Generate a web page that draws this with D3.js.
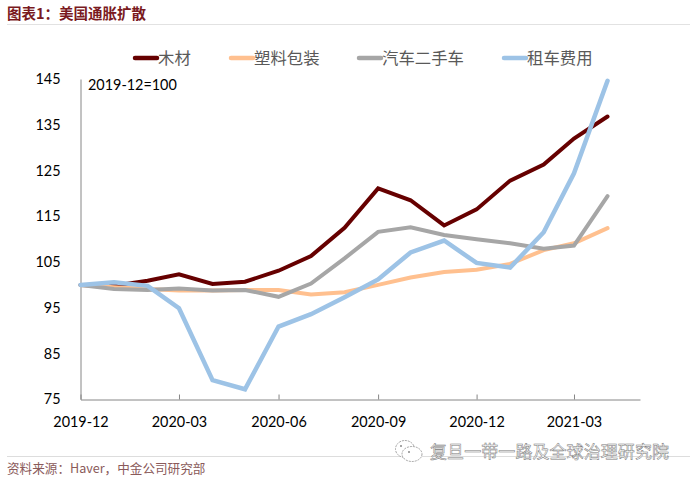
<!DOCTYPE html>
<html><head><meta charset="utf-8">
<script src="https://cdn.jsdelivr.net/npm/d3@7/dist/d3.min.js"></script>
<style>html,body{margin:0;padding:0;background:#fff}svg{display:block}
text{font-family:"Noto Sans CJK SC",sans-serif}
.num text,text.num{font-family:Lato,sans-serif;fill:#000;font-size:14.4px}
</style></head><body><svg id="c" width="690" height="482"></svg>
<script>
const months=["2019-12","2020-01","2020-02","2020-03","2020-04","2020-05","2020-06","2020-07","2020-08","2020-09","2020-10","2020-11","2020-12","2021-01","2021-02","2021-03","2021-04"];
const wood=[100,99.8,100.9,102.3,100.2,100.7,103.1,106.3,112.5,121.1,118.5,113,116.5,122.8,126.3,132,136.8];
const plastic=[100,99.5,99.1,98.8,98.8,98.9,98.9,97.9,98.4,100,101.6,102.8,103.3,104.6,107.6,109.1,112.4];
const usedCar=[100,99.1,98.9,99.2,98.8,98.9,97.4,100.3,105.8,111.6,112.6,110.9,110,109.1,107.9,108.6,119.4];
const rental=[100,100.6,99.8,94.9,79.2,77.2,90.9,93.6,97.3,101.2,107.1,109.7,104.8,103.8,111.5,124.4,144.6];
const seriesNames=["木材","塑料包装","汽车二手车","租车费用"];
const seriesColors=["#660000","#FFC08F","#A6A6A6","#9DC3E6"];
const yTicks=[75,85,95,105,115,125,135,145];
const xTickLabels=["2019-12","2020-03","2020-06","2020-09","2020-12","2021-03"];
const title="图表1：美国通胀扩散", source="资料来源：Haver，中金公司研究部", note="2019-12=100", mark="复旦一带一路及全球治理研究院";

const parse=d3.timeParse("%Y-%m"), fmt=d3.timeFormat("%Y-%m");
const svg=d3.select("#c");
const x=d3.scaleTime().domain([parse("2019-12"),parse("2021-05")]).range([80.5,640]);
const y=d3.scaleLinear().domain([75,145]).range([399.3,79]);

// header and footer
svg.append("text").attr("x",7).attr("y",18.5).attr("font-size",14.5).attr("font-weight",700).attr("fill","#7A1A1E").text(title);
svg.append("line").attr("x1",7).attr("x2",690).attr("y1",24.5).attr("y2",24.5).attr("stroke","#E2E2E2");
svg.append("line").attr("x1",7).attr("x2",690).attr("y1",456.5).attr("y2",456.5).attr("stroke","#DDD");
svg.append("text").attr("x",7).attr("y",473).attr("font-size",12.6).attr("fill","#8A5A5A").text(source);

// axes
const gx=svg.append("g").attr("class","num").attr("transform","translate(0,399.5)")
 .call(d3.axisBottom(x).tickValues(xTickLabels.map(parse)).tickFormat(fmt).tickSizeInner(-5).tickSizeOuter(0).tickPadding(17));
gx.selectAll("line").attr("stroke","#868686");
gx.select(".domain").attr("stroke","#868686");
const gy=svg.append("g").attr("class","num").attr("transform","translate(80.5,0)")
 .call(d3.axisLeft(y).tickValues(yTicks).tickSize(0).tickPadding(20));
gy.select(".domain").attr("stroke","#868686");

// lines
const line=d3.line().x((d,i)=>x(parse(months[i]))).y(d=>y(d));
[wood,plastic,usedCar,rental].forEach((s,i)=>{
  svg.append("path").attr("d",line(s)).attr("fill","none").attr("stroke",seriesColors[i])
   .attr("stroke-width",i==3?4.5:4).attr("stroke-linejoin","miter").attr("stroke-linecap","round");
});

// legend
const legX=[134,230,358,503];
seriesNames.forEach((n,i)=>{
  svg.append("line").attr("x1",legX[i]+1).attr("x2",legX[i]+23).attr("y1",58).attr("y2",58)
    .attr("stroke",seriesColors[i]).attr("stroke-width",4.5).attr("stroke-linecap","round");
  svg.append("text").attr("x",legX[i]+24).attr("y",63.5).attr("font-size",16.4).attr("fill","#595959").text(n);
});
svg.append("text").attr("class","num").attr("x",88).attr("y",90).text(note);

// watermark
const wm=svg.append("g").attr("fill","#fff").attr("stroke","#9A9A9A").attr("stroke-width",0.9).attr("stroke-dasharray","2 1");
wm.append("ellipse").attr("cx",405).attr("cy",449).attr("rx",9.5).attr("ry",8.5);
wm.append("ellipse").attr("cx",412).attr("cy",454).attr("rx",10).attr("ry",7.5);
wm.append("circle").attr("cx",401).attr("cy",446).attr("r",1).attr("fill","#888").attr("stroke","none");
wm.append("circle").attr("cx",409).attr("cy",452).attr("r",1).attr("fill","#888").attr("stroke","none");
svg.append("text").attr("x",430).attr("y",457.5).attr("font-size",17).attr("fill","#fff").attr("stroke","#777").attr("stroke-width",0.5).attr("textLength",239).text(mark);
</script></body></html>
